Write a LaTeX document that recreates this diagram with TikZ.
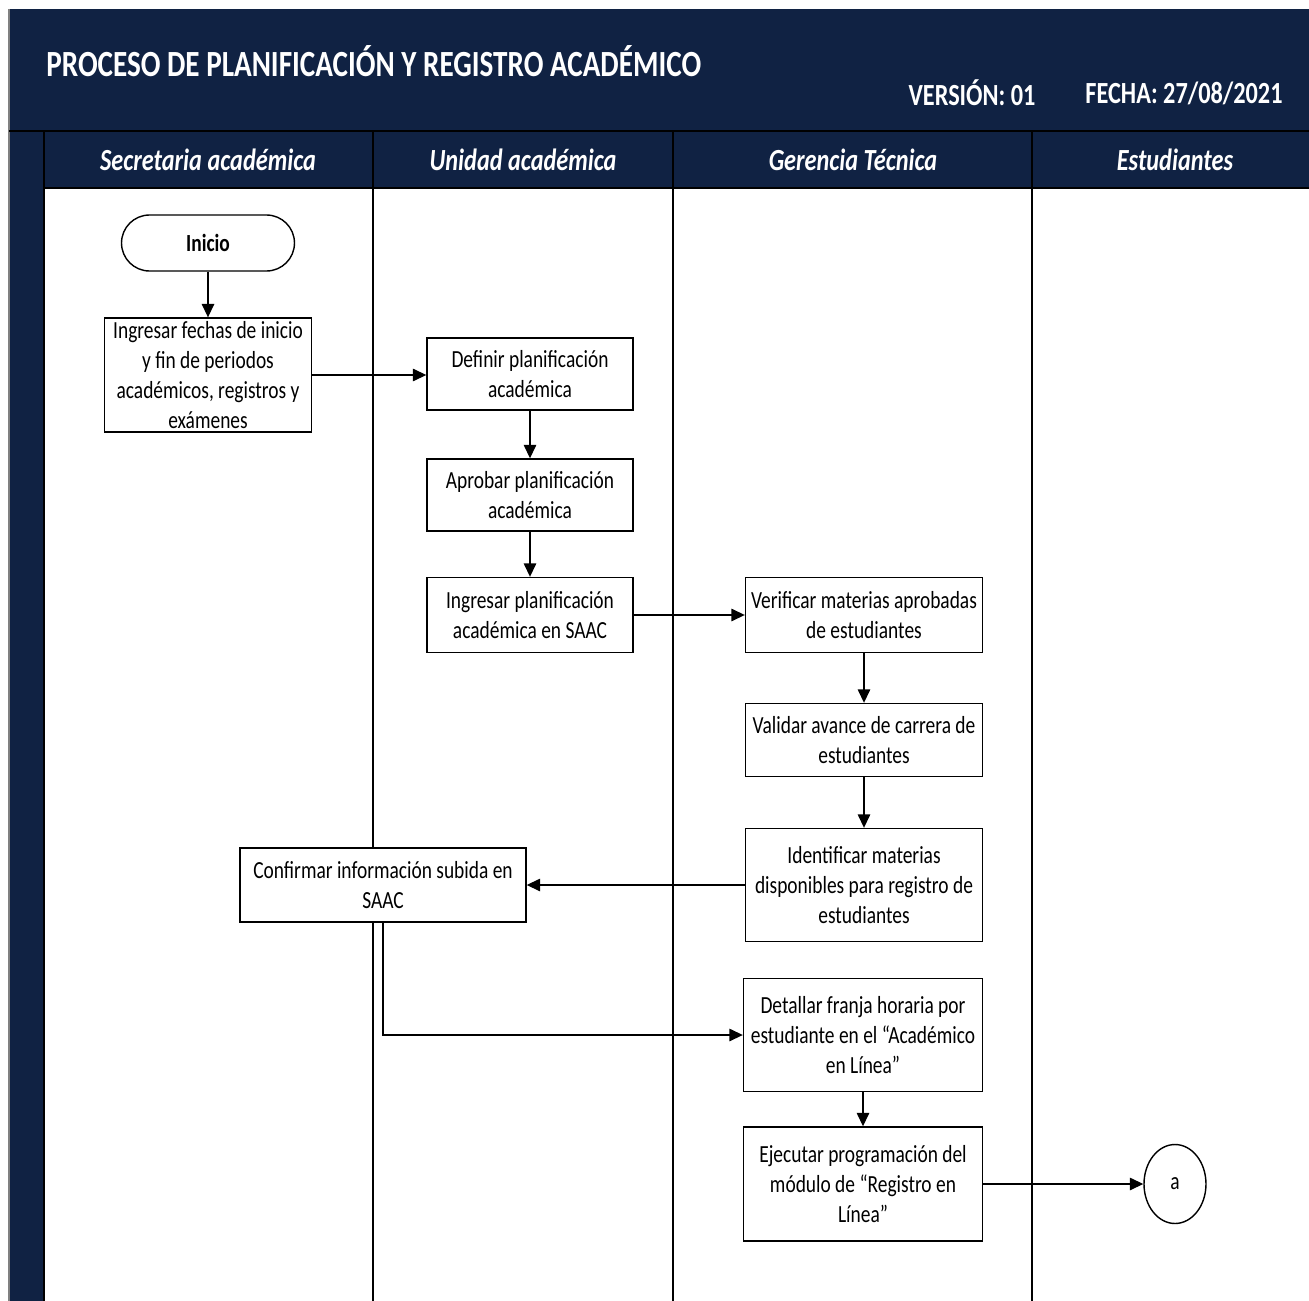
\documentclass[tikz,border=0pt]{standalone}
\usepackage{fontspec}
\setmainfont{Carlito}[FakeStretch=0.79]
\usetikzlibrary{arrows.meta,shapes.geometric}
\definecolor{azulmarino}{HTML}{102243}
\tikzset{
actividad/.style=
    {draw=black,
    line width=0.8pt,
    fill=white,
    rectangle,
    align=center,
    inner sep=2pt,
    font=\fontsize{14}{17}\selectfont
    },
terminal/.style=
    {draw=black,
    line width=0.8pt,
    fill=white,
    rectangle,
    rounded corners=0.56cm,
    minimum width=3.46cm,
    minimum height=1.12cm,
    font=\fontsize{14}{17}\selectfont\bfseries
    },
conector/.style=
    {draw=black,
    line width=0.8pt,
    fill=white,
    ellipse,
    minimum width=1.24cm,
    minimum height=1.58cm,
    inner sep=0pt,
    font=\fontsize{14}{17}\selectfont
    },
flecha/.style=
    {draw=black,
    line width=0.8pt,
    -{Triangle[length=0.27cm,width=0.25cm]}
    },
carril/.style=
    {text=white,
    inner sep=0pt,
    font=\fontsize{17.5}{21}\selectfont\bfseries\itshape
    },
cabecera/.style=
    {text=white,
    inner sep=0pt,
    font=\fontsize{17.5}{21}\selectfont\bfseries
    },
divisor/.style=
    {draw=black,
    line width=0.8pt
    }}

\begin{document}
\begin{tikzpicture}[x=0.02cm,y=-0.02cm]
\useasboundingbox (0,0) rectangle (1309,1301);

% marco y carriles
\fill[azulmarino] (9,9) rectangle (1309,1301);
\fill[white] (44,188) rectangle (1309,1301);
\draw[gray,line width=0.6pt] (9,9) -- (9,1301);
\draw[divisor] (9,131) -- (1309,131);
\draw[divisor] (44,188) -- (1309,188);
\draw[divisor] (44,131) -- (44,1301);
\foreach \x in {373,673,1032}
    \draw[divisor] (\x,131) -- (\x,1301);

% cabecera
\node[cabecera,anchor=west,font=\fontsize{21}{25}\selectfont\bfseries] (titulo) at (46,61)
    {PROCESO DE PLANIFICACIÓN Y REGISTRO ACADÉMICO};
\node[cabecera] (version) at (972,93) {VERSIÓN: 01};
\node[cabecera] (fecha) at (1184,93) {FECHA: 27/08/2021};

\node[carril] (secretaria) at (208,160) {Secretaria académica};
\node[carril] (unidad) at (523,160) {Unidad académica};
\node[carril] (gerencia) at (853,160) {Gerencia Técnica};
\node[carril] (estudiantes) at (1175,160) {Estudiantes};

% actividades
\node[terminal] (inicio) at (208,243) {Inicio};
\node[actividad,minimum width=4.14cm,minimum height=2.26cm] (fechas) at (208,375)
    {Ingresar fechas de inicio\\y fin de periodos\\académicos, registros y\\exámenes};
\node[actividad,minimum width=4.12cm,minimum height=1.44cm] (definir) at (530,374)
    {Definir planificación\\académica};
\node[actividad,minimum width=4.12cm,minimum height=1.44cm] (aprobar) at (530,495)
    {Aprobar planificación\\académica};
\node[actividad,minimum width=4.12cm,minimum height=1.5cm] (saac) at (530,615)
    {Ingresar planificación\\académica en SAAC};
\node[actividad,minimum width=4.74cm,minimum height=1.5cm] (verificar) at (864,615)
    {Verificar materias aprobadas\\de estudiantes};
\node[actividad,minimum width=4.74cm,minimum height=1.46cm] (validar) at (864,740)
    {Validar avance de carrera de\\estudiantes};
\node[actividad,minimum width=4.74cm,minimum height=2.26cm] (identificar) at (864,885)
    {Identificar materias\\disponibles para registro de\\estudiantes};
\node[actividad,minimum width=5.72cm,minimum height=1.48cm] (confirmar) at (383,885)
    {Confirmar información subida en\\SAAC};
\node[actividad,minimum width=4.78cm,minimum height=2.26cm] (detallar) at (863,1035)
    {Detallar franja horaria por\\estudiante en el “Académico\\en Línea”};
\node[actividad,minimum width=4.78cm,minimum height=2.28cm] (ejecutar) at (863,1184)
    {Ejecutar programación del\\módulo de “Registro en\\Línea”};
\node[conector] (a) at (1175,1184) {a};

% flujo
\draw[flecha] (inicio) -- (fechas);
\draw[flecha] (fechas.east) -- (definir.west |- fechas.east);
\draw[flecha] (definir) -- (aprobar);
\draw[flecha] (aprobar) -- (saac);
\draw[flecha] (saac) -- (verificar);
\draw[flecha] (verificar) -- (validar);
\draw[flecha] (validar) -- (identificar);
\draw[flecha] (identificar) -- (confirmar);
\draw[flecha] (confirmar.south) |- (detallar.west);
\draw[flecha] (detallar) -- (ejecutar);
\draw[flecha] (ejecutar) -- (a);

\end{tikzpicture}
\end{document}
